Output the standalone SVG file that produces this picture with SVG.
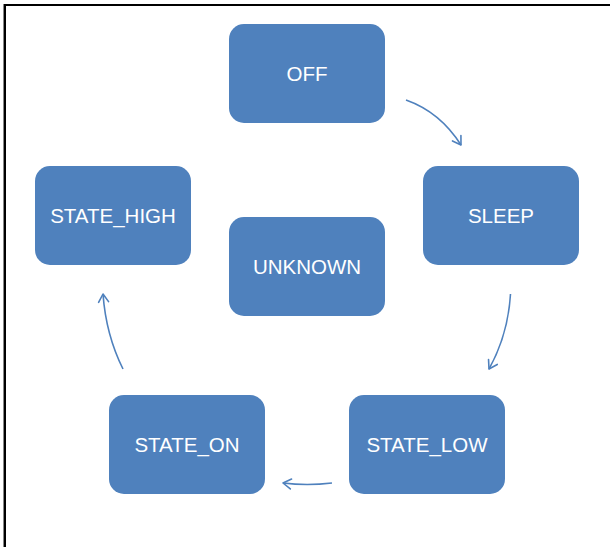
<svg xmlns="http://www.w3.org/2000/svg" width="610" height="547" viewBox="0 0 610 547">
  <style>
    .box { fill: #4F81BD; }
    .lbl { fill: #FFFFFF; font-family: "Liberation Sans", Arial, sans-serif; font-size: 20.5px; text-anchor: middle; }
    .conn { fill: none; stroke: #4F81BD; stroke-width: 1.6; marker-end: url(#arr); }
  </style>
  <defs>
    <marker id="arr" markerUnits="userSpaceOnUse" markerWidth="14" markerHeight="14" viewBox="-10 -7 12 14" refX="0" refY="0" orient="auto">
      <path d="M-8,-5 L0,0 L-8,5" fill="none" stroke="#4F81BD" stroke-width="1.6" stroke-linecap="round" stroke-linejoin="round"/>
    </marker>
  </defs>
  <rect width="610" height="547" fill="#FFFFFF"/>
  <g id="frame">
    <line x1="4" y1="5" x2="610" y2="5" stroke="#000" stroke-width="2"/>
    <line x1="3.5" y1="4" x2="3.5" y2="547" stroke="#888" stroke-width="1"/>
    <line x1="5" y1="4" x2="5" y2="547" stroke="#000" stroke-width="2"/>
  </g>
  <g id="connectors">
    <path class="conn" d="M406,100 Q440,112 461,145"/>
    <path class="conn" d="M510.5,294 Q508,335 489,369"/>
    <path class="conn" d="M332,483 Q307,486 283,483"/>
    <path class="conn" d="M123,369 Q106,335 103,294"/>
  </g>
  <g id="off">
    <rect class="box" x="229" y="24" width="156" height="99" rx="15"/>
    <text class="lbl" x="307" y="81">OFF</text>
  </g>
  <g id="sleep">
    <rect class="box" x="423" y="166" width="156" height="99" rx="15"/>
    <text class="lbl" x="501" y="223">SLEEP</text>
  </g>
  <g id="state_high">
    <rect class="box" x="35" y="166" width="156" height="99" rx="15"/>
    <text class="lbl" x="113" y="223">STATE_HIGH</text>
  </g>
  <g id="unknown">
    <rect class="box" x="229" y="217" width="156" height="99" rx="15"/>
    <text class="lbl" x="307" y="274">UNKNOWN</text>
  </g>
  <g id="state_on">
    <rect class="box" x="109" y="395" width="156" height="99" rx="15"/>
    <text class="lbl" x="187" y="452">STATE_ON</text>
  </g>
  <g id="state_low">
    <rect class="box" x="349" y="395" width="156" height="99" rx="15"/>
    <text class="lbl" x="427" y="452">STATE_LOW</text>
  </g>
</svg>
